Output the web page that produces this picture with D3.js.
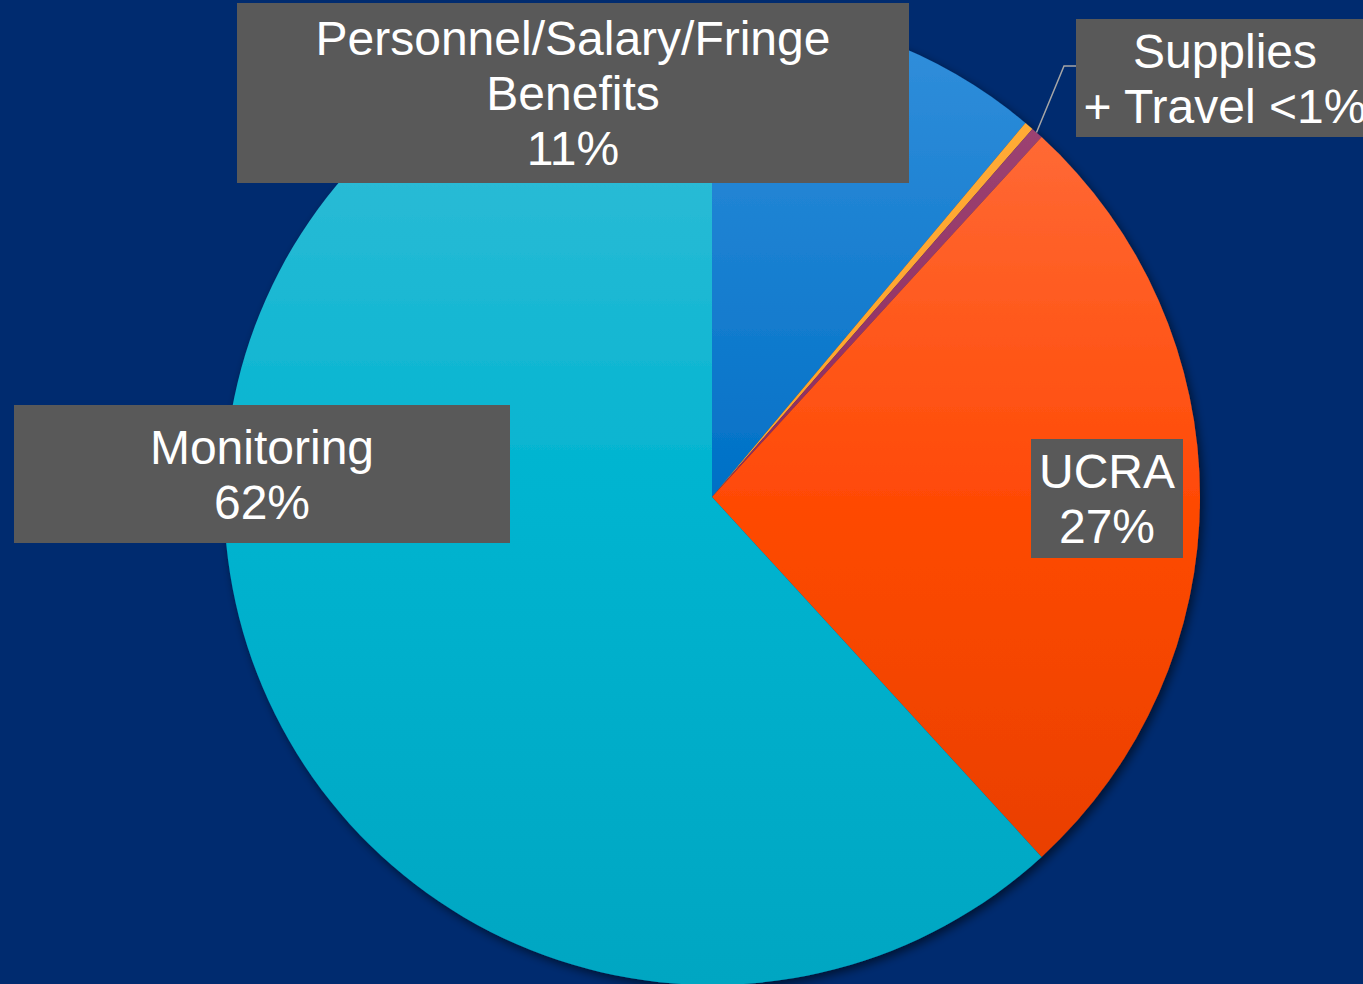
<!DOCTYPE html>
<html>
<head>
<meta charset="utf-8">
<script src="https://cdn.jsdelivr.net/npm/d3@7"></script>
<style>
  html, body { margin: 0; padding: 0; background: #002b6f; overflow: hidden; }
  svg { display: block; }
  .lbl { font-family: "Liberation Sans", Arial, sans-serif; fill: #fff; text-anchor: middle; }
</style>
</head>
<body>
<script>
// data
var categories = ["Personnel/Salary/Fringe Benefits", "Supplies", "Travel", "UCRA", "Monitoring"];
var values = [11.1, 0.3, 0.4, 26.4, 61.8];
var labelLines = [
  ["Personnel/Salary/Fringe", "Benefits", "11%"],
  null,
  ["Supplies", "+ Travel <1%"],
  ["UCRA", "27%"],
  ["Monitoring", "62%"]
];

var width = 1363, height = 984;
var cx = 712, cy = 497, r = 488;

// gradient stops per slice [top, middle, bottom]
var gradStops = [
  ["#3490dc", "#0070c6", "#005fb0"],
  ["#ffad3a", "#ffa228", "#f09018"],
  ["#a04a78", "#8e2a5e", "#7a2050"],
  ["#ff7446", "#ff4a06", "#e23c00"],
  ["#40bed8", "#00b4d0", "#00a6c2"]
];

var svg = d3.select("body").append("svg")
  .attr("width", width)
  .attr("height", height);

var defs = svg.append("defs");

defs.append("filter")
  .attr("id", "shadow")
  .attr("x", "-10%").attr("y", "-10%")
  .attr("width", "120%").attr("height", "120%")
.append("feDropShadow")
  .attr("dx", 3).attr("dy", 4)
  .attr("stdDeviation", 5)
  .attr("flood-color", "#000")
  .attr("flood-opacity", 0.55);

// gradients run over the whole pie, in the pie group's own coordinates
gradStops.forEach(function(s, i) {
  var lgr = defs.append("linearGradient")
    .attr("id", "grad" + i)
    .attr("gradientUnits", "userSpaceOnUse")
    .attr("x1", 0).attr("x2", 0)
    .attr("y1", -r).attr("y2", r);
  lgr.append("stop").attr("offset", "0%").attr("stop-color", s[0]);
  lgr.append("stop").attr("offset", "50%").attr("stop-color", s[1]);
  lgr.append("stop").attr("offset", "100%").attr("stop-color", s[2]);
});

var pie = d3.pie().sort(null).value(function(d) { return d; });
var arcs = pie(values);
var arc = d3.arc().innerRadius(0).outerRadius(r);

var g = svg.append("g")
  .attr("transform", "translate(" + cx + "," + cy + ")");

var pieG = g.append("g").attr("filter", "url(#shadow)");
pieG.selectAll("path")
  .data(arcs)
  .enter().append("path")
  .attr("fill", function(d, i) { return "url(#grad" + i + ")"; })
  .attr("d", arc);

// leader line for supplies + travel
var smallA = (arcs[1].startAngle + arcs[2].endAngle) / 2 + 0.008;
var px = Math.sin(smallA) * r, py = -Math.cos(smallA) * r;
g.append("polyline")
  .attr("points", [[px, py], [1064 - cx, 66 - cy], [1076 - cx, 66 - cy]].map(function(p) { return p.join(","); }).join(" "))
  .attr("fill", "none")
  .attr("stroke", "#a6a6a6")
  .attr("stroke-width", 1.5);

// label boxes
var labelBoxes = [
  {i: 0, x: 237, y: 3, w: 672, h: 180, tx: 573, base: 55, size: 48},
  {i: 2, x: 1076, y: 19, w: 300, h: 118, tx: 1225, base: 68, size: 48},
  {i: 3, x: 1031, y: 439, w: 152, h: 119, tx: 1107, base: 488, size: 48},
  {i: 4, x: 14, y: 405, w: 496, h: 138, tx: 262, base: 464, size: 48}
];

var lg = svg.append("g");
labelBoxes.forEach(function(b) {
  lg.append("rect")
    .attr("x", b.x).attr("y", b.y)
    .attr("width", b.w).attr("height", b.h)
    .attr("fill", "#595959");
  var t = lg.append("text")
    .attr("class", "lbl")
    .attr("font-size", b.size);
  labelLines[b.i].forEach(function(line, k) {
    t.append("tspan")
      .attr("x", b.tx)
      .attr("y", b.base + k * 55)
      .text(line);
  });
});
</script>
</body>
</html>
